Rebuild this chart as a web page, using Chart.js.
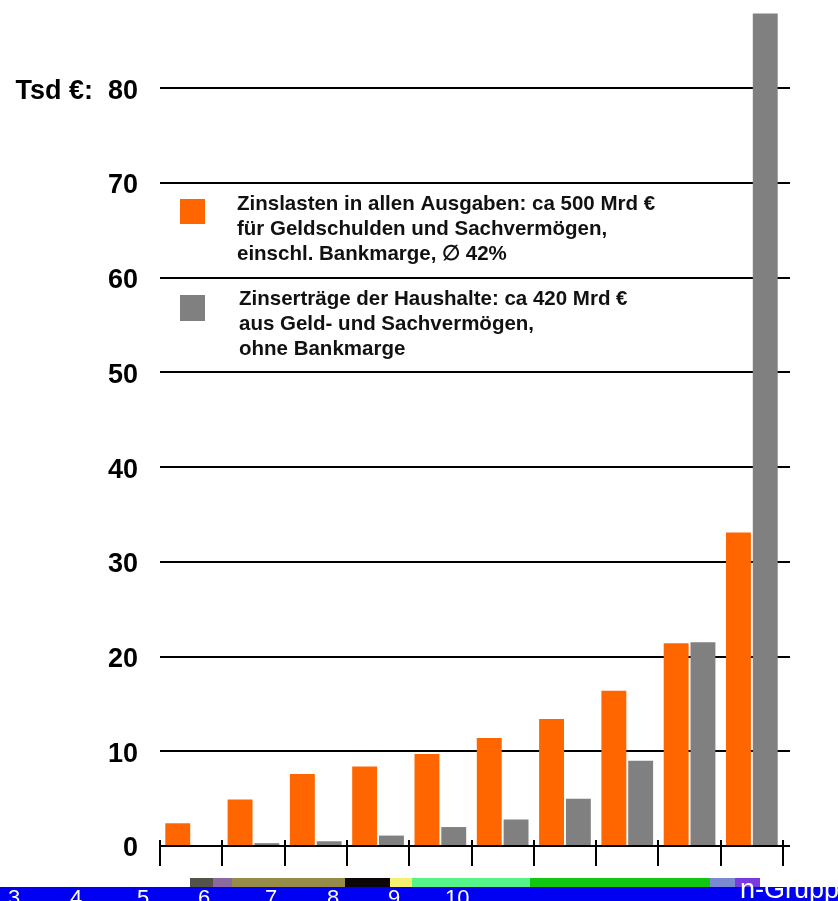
<!DOCTYPE html>
<html>
<head>
<meta charset="utf-8">
<script src="https://cdn.jsdelivr.net/npm/chart.js@4/dist/chart.umd.min.js"></script>
<style>
  html, body { margin: 0; padding: 0; background: #ffffff; }
  canvas { display: block; }
</style>
</head>
<body>
<canvas id="chart" width="838" height="901"></canvas>
<script>
// Deciles of households (not labelled on the axis)
const categories = ['1', '2', '3', '4', '5', '6', '7', '8', '9', '10'];

// Thousand euro per household
const zinslasten   = [2.4, 4.9, 7.6, 8.4, 9.7, 11.4, 13.4, 16.4, 21.4, 33.1];
const zinsertraege = [0.1, 0.3, 0.5, 1.1, 2.0, 2.8, 5.0, 9.0, 21.5, 87.9];

// Y-axis tick values and the unit prefix on the top one
const yTicks = [0, 10, 20, 30, 40, 50, 60, 70, 80];
const yUnitPrefix = 'Tsd €:  ';

// Legend text, one entry per line
const legendZinslasten = [
  'Zinslasten in allen Ausgaben: ca 500 Mrd €',
  'für Geldschulden und Sachvermögen,',
  'einschl. Bankmarge, \u2205 42%'
];
const legendZinsertraege = [
  'Zinserträge der Haushalte: ca 420 Mrd €',
  'aus Geld- und Sachvermögen,',
  'ohne Bankmarge'
];

// Footer band labels
const footerNumbers = ['3', '4', '5', '6', '7', '8', '9', '10'];
const footerText = 'n-Grupp';

const ORANGE = '#ff6600';
const GREY = '#808080';
const FONT = 'Arial, "Liberation Sans", Helvetica, sans-serif';

// In-plot legend: coloured square followed by three bold lines of text
const boxLegend = {
  id: 'boxLegend',
  afterDatasetsDraw(chart) {
    const ctx = chart.ctx;
    const blocks = [
      { color: ORANGE, lines: legendZinslasten, box: [180, 199, 25, 25], textX: 237, firstY: 204 },
      { color: GREY, lines: legendZinsertraege, box: [180, 295, 25, 26], textX: 239, firstY: 299 }
    ];
    ctx.save();
    ctx.font = 'bold 20.5px ' + FONT;
    ctx.textBaseline = 'middle';
    ctx.textAlign = 'left';
    blocks.forEach(b => {
      ctx.fillStyle = b.color;
      ctx.fillRect(b.box[0], b.box[1], b.box[2], b.box[3]);
      ctx.fillStyle = '#111111';
      b.lines.forEach((line, i) => ctx.fillText(line, b.textX, b.firstY + i * 25));
    });
    ctx.restore();
  }
};

// Short upward stubs of the category tick marks above the baseline
const tickStubs = {
  id: 'tickStubs',
  afterDraw(chart) {
    const x = chart.scales.x;
    const ctx = chart.ctx;
    const base = chart.chartArea.bottom;
    ctx.save();
    ctx.strokeStyle = '#000000';
    ctx.lineWidth = 2;
    for (let i = 0; i <= categories.length; i++) {
      const px = Math.round(x.getPixelForValue(i - 0.5));
      ctx.beginPath();
      ctx.moveTo(px, base - 6);
      ctx.lineTo(px, base);
      ctx.stroke();
    }
    ctx.restore();
  }
};

// Slide footer band below the chart
const footerBand = {
  id: 'footerBand',
  afterDraw(chart) {
    const ctx = chart.ctx;
    ctx.save();
    const strip = [
      [190, 213, '#55524a'], [213, 232, '#8a6aa0'], [232, 345, '#968b48'],
      [345, 390, '#0c0606'], [390, 412, '#f4f070'], [412, 530, '#55f58a'],
      [530, 710, '#10c810'], [710, 735, '#7a8ad0'], [735, 760, '#7a3ae0']
    ];
    strip.forEach(s => { ctx.fillStyle = s[2]; ctx.fillRect(s[0], 878, s[1] - s[0], 10); });
    ctx.fillStyle = '#0000f2';
    ctx.fillRect(0, 887, 838, 14);
    ctx.fillStyle = '#ffffff';
    ctx.font = '22px ' + FONT;
    ctx.textBaseline = 'alphabetic';
    ctx.textAlign = 'left';
    const xs = [8, 70, 137, 198, 265, 327, 388, 445];
    footerNumbers.forEach((t, i) => ctx.fillText(t, xs[i], 905));
    ctx.font = '27px ' + FONT;
    ctx.fillText(footerText, 740, 898);
    ctx.restore();
  }
};

// Keep the value axes from reserving extra room above the plot
function fixVerticalScale(width) {
  return (scale) => {
    scale.width = width;
    scale.paddingTop = 0;
    scale.paddingBottom = 0;
  };
}

new Chart(document.getElementById('chart'), {
  type: 'bar',
  data: {
    labels: categories,
    datasets: [
      {
        label: legendZinslasten.join(' '),
        data: zinslasten,
        backgroundColor: ORANGE,
        borderWidth: 0,
        categoryPercentage: 0.86,
        barPercentage: 0.93
      },
      {
        label: legendZinsertraege.join(' '),
        data: zinsertraege,
        backgroundColor: GREY,
        borderWidth: 0,
        categoryPercentage: 0.86,
        barPercentage: 0.93
      }
    ]
  },
  options: {
    responsive: false,
    devicePixelRatio: 1,
    animation: false,
    layout: { padding: { top: 3, right: 48, bottom: 0, left: 0 } },
    plugins: {
      legend: { display: false },
      tooltip: { enabled: false }
    },
    scales: {
      x: {
        offset: true,
        grid: {
          offset: true,
          drawOnChartArea: false,
          drawTicks: true,
          tickLength: 20,
          color: '#000000',
          lineWidth: 2
        },
        border: { display: true, color: '#000000', width: 2 },
        ticks: { display: false },
        afterFit(scale) { scale.height = 55; scale.paddingTop = 0; scale.paddingBottom = 0; }
      },
      y: {
        min: 0,
        max: 89,
        afterBuildTicks(scale) { scale.ticks = yTicks.map(v => ({ value: v })); },
        grid: {
          color: '#000000',
          lineWidth: 2,
          drawTicks: false
        },
        border: { display: false },
        ticks: {
          padding: 22,
          labelOffset: 3,
          color: '#000000',
          font: { family: FONT, size: 27, weight: 'bold' },
          callback: (v) => (v === 80 ? yUnitPrefix + v : String(v))
        },
        afterFit: fixVerticalScale(160)
      },
      yRight: {
        position: 'right',
        min: 0,
        max: 89,
        afterBuildTicks(scale) { scale.ticks = yTicks.map(v => ({ value: v })); },
        grid: {
          color: '#000000',
          lineWidth: 2,
          drawOnChartArea: false,
          drawTicks: true,
          tickLength: 7
        },
        border: { display: false },
        ticks: { display: false },
        afterFit: fixVerticalScale(7)
      }
    }
  },
  plugins: [boxLegend, tickStubs, footerBand]
});
</script>
</body>
</html>
